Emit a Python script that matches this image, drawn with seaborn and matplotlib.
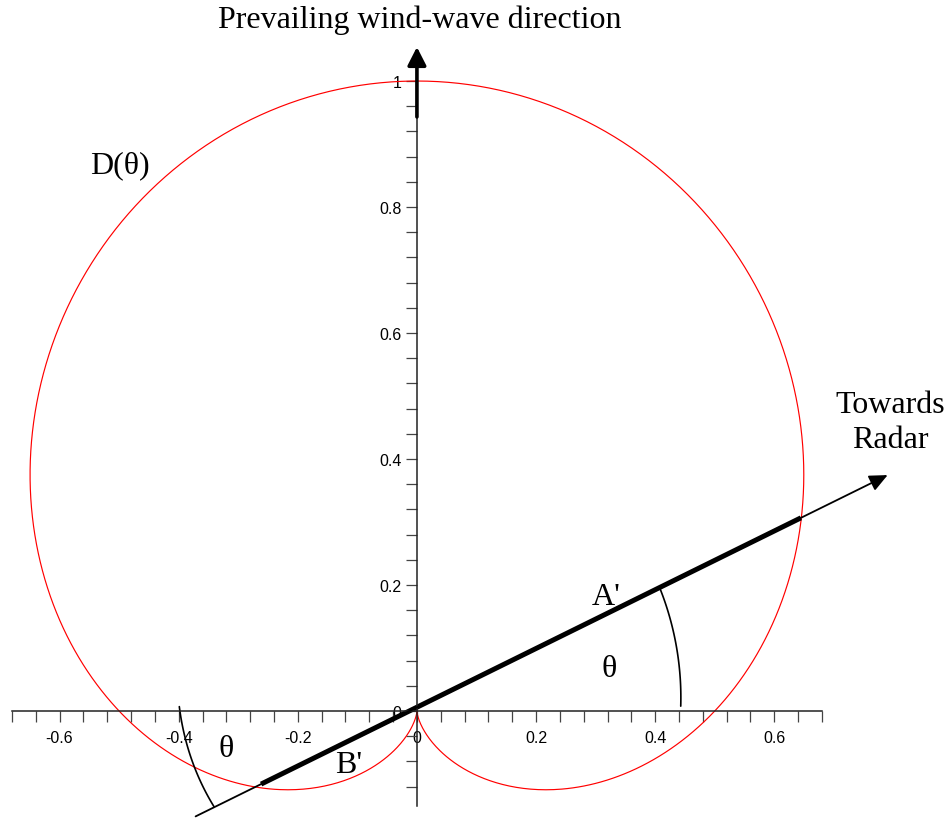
import numpy as np
import pandas as pd
import matplotlib
matplotlib.use("Agg")
import matplotlib.pyplot as plt
import seaborn as sns
from matplotlib.ticker import FixedLocator, FuncFormatter

# Angle between the prevailing wind-wave direction and the radar look direction
theta_deg = 65.0
# Directional spreading D(phi) = cos^2(phi/2), phi measured from the wind direction
phi = np.radians(np.arange(0.0, 360.5, 0.5))
spread = np.cos(phi / 2.0) ** 2

x_ticks = np.round(np.arange(-17, 18) * 0.04, 2)
y_ticks = np.round(np.arange(-3, 26) * 0.04, 2)
label_step = 0.2

sns.set_theme(style="white")
plt.rcParams["font.family"] = ["Liberation Sans", "DejaVu Sans"]
plt.rcParams["axes.unicode_minus"] = False
plt.rcParams["text.color"] = "black"
serif = ["Liberation Serif", "DejaVu Serif"]

fig = plt.figure(figsize=(9.5, 8.2), dpi=100)
ax = fig.add_axes([0, 0, 1, 1])
ax.set_xlim(-0.700, 0.895)
ax.set_ylim(-0.1714, 1.1302)

# polar curve D(theta) drawn in the plane
curve = pd.DataFrame({"x": spread * np.sin(phi), "y": spread * np.cos(phi)})
sns.lineplot(data=curve, x="x", y="y", sort=False, estimator=None,
             color="#ff0000", lw=0.85, ax=ax)
ax.set_xlabel("")
ax.set_ylabel("")

# axes through the origin
for s in ("top", "right"):
    ax.spines[s].set_visible(False)
for s in ("left", "bottom"):
    ax.spines[s].set_position(("data", 0))
    ax.spines[s].set_color("#222222")
    ax.spines[s].set_linewidth(1.1)
ax.spines["left"].set_bounds(-0.15, 1.0)
ax.spines["bottom"].set_bounds(-0.68, 0.68)


def tick_fmt(v, pos):
    k = v / label_step
    if abs(k - round(k)) < 1e-6:
        return f"{round(k) * label_step:g}"
    return ""


ax.xaxis.set_major_locator(FixedLocator(x_ticks))
ax.yaxis.set_major_locator(FixedLocator(y_ticks))
ax.xaxis.set_major_formatter(FuncFormatter(tick_fmt))
ax.yaxis.set_major_formatter(FuncFormatter(tick_fmt))
ax.tick_params(axis="both", direction="out", length=8, width=0.9,
               color="#444444", labelsize=11.5, labelcolor="black",
               bottom=True, left=True)
ax.tick_params(axis="x", pad=6)
ax.tick_params(axis="y", pad=3)

# wind direction arrow on the vertical axis
ax.annotate("", xy=(0, 1.054), xytext=(0, 0.943),
            arrowprops=dict(arrowstyle="-|>,head_length=0.55,head_width=0.28",
                            mutation_scale=20, lw=2.6, color="black",
                            shrinkA=0, shrinkB=0))

# radar look direction (drawn just above the origin)
alpha = np.radians(90.0 - theta_deg)
u = np.array([np.cos(alpha), np.sin(alpha)])
lift = np.array([0.0, 0.006])
t_start, t_tip = -0.41, 0.872
ax.annotate("", xy=tuple(u * t_tip + lift), xytext=tuple(u * t_start + lift),
            arrowprops=dict(arrowstyle="-|>,head_length=0.55,head_width=0.25",
                            mutation_scale=20, lw=1.3, color="black",
                            shrinkA=0, shrinkB=0))

# chord A'B' between the two intersections with D(theta)
r_a = np.cos(np.radians(theta_deg) / 2.0) ** 2
r_b = np.sin(np.radians(theta_deg) / 2.0) ** 2
ax.plot([-u[0] * r_b, u[0] * r_a], [-u[1] * r_b + lift[1], u[1] * r_a + lift[1]],
        color="black", lw=3.6, solid_capstyle="butt")

# angle markers
ang_r = np.radians(np.linspace(1.0, 25.4, 50))
rad_r = np.linspace(0.443, 0.452, 50)
ax.plot(rad_r * np.cos(ang_r), rad_r * np.sin(ang_r), color="black", lw=1.2)
ang_l = np.radians(np.linspace(179.0, 204.0, 50))
rad_l = np.linspace(0.399, 0.373, 50)
ax.plot(rad_l * np.cos(ang_l), rad_l * np.sin(ang_l), color="black", lw=1.2)

# labels
fs = 23
txt = dict(va="baseline", fontsize=fs, family=serif, color="black")
ax.text(0.005, 1.0857, "Prevailing wind-wave direction", ha="center", **txt)
ax.text(0.794, 0.4746, "Towards", ha="center", **txt)
ax.text(0.794, 0.419, "Radar", ha="center", **txt)
ax.text(-0.549, 0.8556, "D(θ)", ha="left", **txt)
ax.text(0.2938, 0.1698, "A'", ha="left", **txt)
ax.text(0.3224, 0.0556, "θ", ha="center", **txt)
ax.text(-0.1377, -0.0968, "B'", ha="left", **txt)
ax.text(-0.3207, -0.0714, "θ", ha="center", **txt)

fig.savefig("out.png", dpi=100)
